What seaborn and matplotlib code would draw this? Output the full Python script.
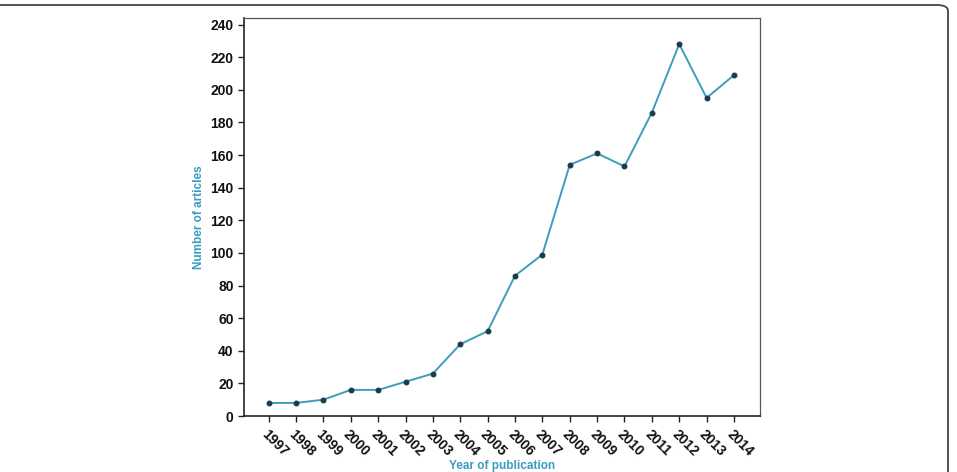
import matplotlib
matplotlib.use("Agg")
import matplotlib.pyplot as plt
import seaborn as sns
import pandas as pd
from matplotlib.patches import FancyBboxPatch

years = [1997, 1998, 1999, 2000, 2001, 2002, 2003, 2004, 2005, 2006, 2007,
         2008, 2009, 2010, 2011, 2012, 2013, 2014]
articles = [8, 8, 10, 16, 16, 21, 26, 44, 52, 86, 99, 154, 161, 153, 186, 228, 195, 209]
y_ticks = list(range(0, 241, 20))

df = pd.DataFrame({"year": years, "articles": articles})

sns.set_style("white")
plt.rcParams['font.family'] = ['Liberation Sans', 'DejaVu Sans']

fig = plt.figure(figsize=(9.57, 4.72), dpi=100)
ax = fig.add_axes([244/957, 1-416/472, (760-244)/957, (416-18)/472])

teal = "#3d9dbb"
sns.lineplot(data=df, x="year", y="articles", ax=ax, color=teal, linewidth=1.4,
             marker="o", markersize=3.5, markerfacecolor="#1c3a44",
             markeredgecolor="#1c3a44")

ax.set_xlim(1996.1, 2014.95)
ax.set_ylim(0, 244)
ax.set_xticks(years)
ax.set_xticklabels([str(y) for y in years], rotation=-45, ha="left", va="top",
                   rotation_mode="anchor", fontsize=10, fontweight="bold")
ax.set_yticks(y_ticks)
ax.set_yticklabels([str(v) for v in y_ticks], fontsize=10, fontweight="bold")
for lab in ax.get_xticklabels() + ax.get_yticklabels():
    lab.set_color("#111111")
ax.tick_params(axis="both", which="both", length=4, width=1, color="#222222",
               direction="out", bottom=True, left=True)
ax.tick_params(axis="x", pad=4)
ax.set_xlabel("Year of publication", color="#3a9cc0", fontsize=8.5,
              fontweight="bold")
ax.set_ylabel("Number of articles", color="#3a9cc0", fontsize=8.5,
              fontweight="bold")
ax.xaxis.set_label_coords(0.5, -0.11)
ax.yaxis.set_label_coords(-0.076, 0.5)
for side in ["left", "bottom"]:
    ax.spines[side].set_color("#222222")
    ax.spines[side].set_linewidth(1.2)
for side in ["top", "right"]:
    ax.spines[side].set_color("#555555")
    ax.spines[side].set_linewidth(0.9)

frame = FancyBboxPatch((-0.02, -0.2), 0.02 + 948/957, 0.2 + 1 - 5/472,
                       boxstyle="round,pad=0,rounding_size=0.012",
                       transform=fig.transFigure, fill=False,
                       edgecolor="#444444", linewidth=1.3, clip_on=False)
fig.patches.append(frame)

fig.savefig("out.png", dpi=100)
